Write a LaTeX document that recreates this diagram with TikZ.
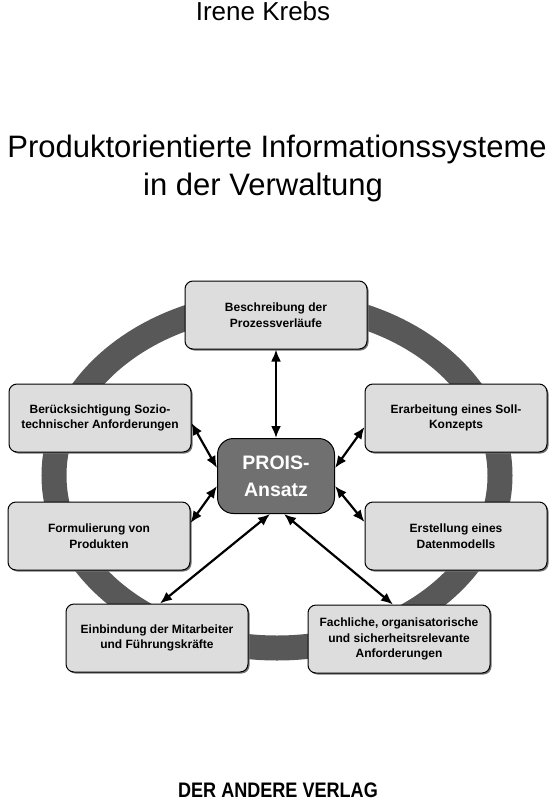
\documentclass[tikz,border=0pt]{standalone}
\usepackage{fontspec}
\setmainfont{Liberation Sans}
\usetikzlibrary{arrows.meta,shadows}

\definecolor{ringgray}{RGB}{88,88,88}
\definecolor{boxgray}{RGB}{221,221,221}
\definecolor{coregray}{RGB}{112,112,112}

\begin{document}
\begin{tikzpicture}[x=1pt,y=-1pt,
  topic/.style={draw=black, line width=1pt, fill=boxgray, rounded corners=8pt,
    minimum width=182pt, minimum height=68pt, align=center, inner sep=2pt,
    font=\fontsize{12}{15.5}\selectfont\bfseries,
    drop shadow={shadow xshift=1.5pt, shadow yshift=-1.5pt, fill=black!55, opacity=1}},
  core/.style={draw=black, line width=1pt, fill=coregray, rounded corners=16pt,
    minimum width=117pt, minimum height=75pt, align=center, text=white,
    font=\fontsize{19.5}{27}\selectfont\bfseries},
  link/.style={line width=2.2pt, {Latex[length=12pt,width=10pt]}-{Latex[length=12pt,width=10pt]}}]

\useasboundingbox (0,0) rectangle (553,800);

% title
\node[anchor=base, font=\fontsize{26}{30}\selectfont] (author) at (263,21) {Irene Krebs};
\node[anchor=base, font=\fontsize{31}{38}\selectfont] (title1) at (277,157) {Produktorientierte Informationssysteme};
\node[anchor=base, font=\fontsize{31}{38}\selectfont] (title2) at (263,195) {in der Verwaltung};

% ring
\draw[ringgray, line width=25pt] (277,475.5) ellipse [x radius=223, y radius=172.5];

% boxes
\node[topic] (top) at (276,315) {Beschreibung der\\Prozessverläufe};
\node[topic] (lu) at (100,418) {Berücksichtigung Sozio-\\technischer Anforderungen};
\node[topic] (ru) at (456,418) {Erarbeitung eines Soll-\\Konzepts};
\node[topic] (ld) at (99,536) {Formulierung von\\Produkten};
\node[topic] (rd) at (456,536) {Erstellung eines\\Datenmodells};
\node[topic] (bl) at (157,638) {Einbindung der Mitarbeiter\\und Führungskräfte};
\node[topic] (br) at (399,639) {Fachliche, organisatorische\\und sicherheitsrelevante\\Anforderungen};

% centre
\node[core] (prois) at (276,476) {PROIS-\\Ansatz};

% arrows
\draw[link] (top.south) -- (prois.north);
\draw[link] ([yshift=-5pt]lu.east) -- ([yshift=8pt]prois.west);
\draw[link] ([yshift=13pt]ld.east) -- ([yshift=-10pt]prois.west);
\draw[link] ([yshift=-9pt]ru.west) -- ([yshift=8pt]prois.east);
\draw[link] ([yshift=14pt]rd.west) -- ([yshift=-10pt]prois.east);
\draw[link] ([xshift=3pt]bl.north) -- ([xshift=-6pt]prois.south);
\draw[link] ([xshift=-6pt]br.north) -- ([xshift=8pt]prois.south);

% publisher
\node[anchor=base, font=\fontsize{21}{24}\selectfont\bfseries, xscale=0.86] (verlag) at (278,797) {DER ANDERE VERLAG};

\end{tikzpicture}
\end{document}
